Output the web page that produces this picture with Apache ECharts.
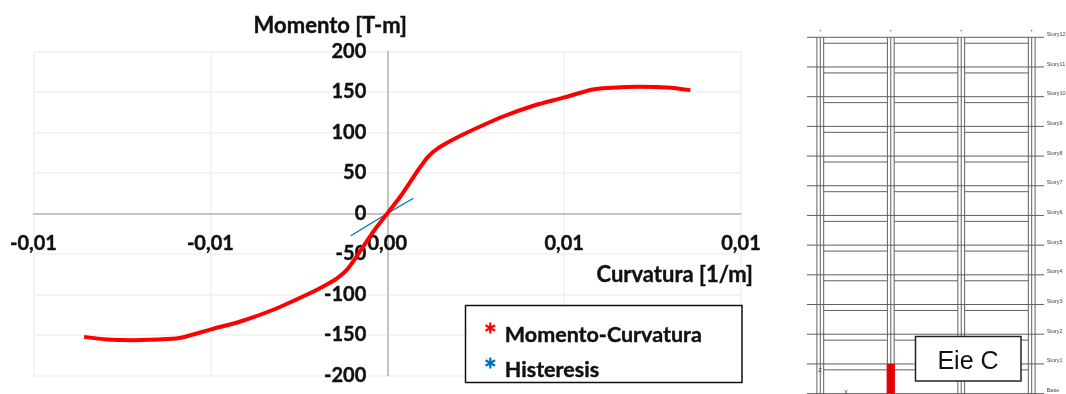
<!DOCTYPE html>
<html><head><meta charset="utf-8">
<style>html,body{margin:0;padding:0;background:#fff}#c{width:1066px;height:394px}</style>
<script src="https://cdn.jsdelivr.net/npm/echarts@6/dist/echarts.min.js"></script>
</head><body><div id="c"></div>
<script>
// Chart data
const xTickLabels = {'-0.01':'-0,01','-0.005':'-0,01','0':'0,00','0.005':'0,01','0.01':'0,01'};
const curvature = [-0.00857,-0.00792,-0.00715,-0.00622,-0.0058,-0.00498,-0.00413,-0.0032,-0.00226,-0.00185,-0.00145,-0.00115,-0.00088,-0.00037,0,0.00037,0.00088,0.00115,0.00145,0.00185,0.00226,0.0032,0.00413,0.00498,0.0058,0.00622,0.00715,0.00792,0.00857];
const moment = [-152.3,-155.6,-156.4,-155,-153,-143,-133,-118.5,-100,-91,-81,-70,-54,-21,0,21,54,70,81,91,100,118.5,133,143,153,155,156.4,155.6,152.3];
const histX = [-0.00103,0,0.00074];
const histY = [-27.5,0,18.9];
// Elevation data (bays and storeys)
const storeyLevels = [0,1,2,3,4,5,6,7,8,9,10,11,12];
const storeyNames = ['Base','Story1','Story2','Story3','Story4','Story5','Story6','Story7','Story8','Story9','Story10','Story11','Story12'];
const columnLines = [0,1,2,3];
const highlightedColumn = [1,0,1];

const zip = (a,b)=>a.map((v,i)=>[v,b[i]]);
function asterisk(){
  let d='';
  for(const deg of [0,60,120]){
    const r=deg*Math.PI/180,c=Math.cos(r),s=Math.sin(r);
    const pts=[[-2,-10],[2,-10],[2,10],[-2,10]].map(([x,y])=>[10+x*c-y*s,10+x*s+y*c]);
    d+='M'+pts.map(p=>p[0].toFixed(2)+','+p[1].toFixed(2)).join('L')+'Z';
  }
  // degenerate point below stretches the icon box so the star sits above the text centre
  return 'path://'+d+'M10,45.5L10.01,45.5Z';
}
const star = asterisk();
const bold = {fontFamily:'Lato',fontWeight:'bold',color:'#111',textBorderColor:'#111',textBorderWidth:0.4};
const colHalf = 0.048, overhang = 0.19, beamDrop = 0.2, lineCol = '#606060';

const segments = [];
for(const l of storeyLevels) segments.push([-overhang,l,3.175,l]);
for(const c of columnLines) for(const o of [-colHalf,0,colHalf]) segments.push([c+o,-0.02,c+o,12]);
for(const c of columnLines) segments.push([c,12.2,c,12.25]);
for(const l of storeyLevels.slice(1)) for(let b=0;b<3;b++) segments.push([b+colHalf,l-beamDrop,b+1-colHalf,l-beamDrop]);

const chart = echarts.init(document.getElementById('c'),null,{renderer:'canvas'});
chart.setOption({
  animation:false,
  backgroundColor:'#fff',
  grid:[
    {left:33.5,top:51.5,width:707.5,height:324,outerBoundsMode:'none'},
    {left:820.3,top:37.3,width:211.4,height:356.3,outerBoundsMode:'none'}
  ],
  xAxis:[
    {type:'value',gridIndex:0,min:-0.01,max:0.01,interval:0.005,offset:-162,
     axisLine:{onZero:false,lineStyle:{color:'#b5b5b5',width:1.5}},axisTick:{show:false},
     splitLine:{show:true,lineStyle:{color:'#f0f0f0',width:1.5}},
     axisLabel:{...bold,fontSize:20,margin:20,hideOverlap:false,showMinLabel:true,showMaxLabel:true,formatter:v=>xTickLabels[String(v)]},
     name:'Curvatura [1/m]',nameLocation:'end',nameGap:12,
     nameTextStyle:{...bold,fontSize:22,align:'right',verticalAlign:'top',padding:[50,0,0,0]}},
    {type:'value',gridIndex:1,min:0,max:3,show:false}
  ],
  yAxis:[
    {type:'value',gridIndex:0,min:-200,max:200,interval:50,offset:-353.75,
     axisLine:{onZero:false,lineStyle:{color:'#b5b5b5',width:1.5}},axisTick:{show:false},
     splitLine:{show:true,lineStyle:{color:'#f0f0f0',width:1.5}},
     axisLabel:{...bold,fontSize:20,margin:21,showMinLabel:true,showMaxLabel:true},
     name:'Momento [T-m]',nameLocation:'end',nameGap:15,
     nameTextStyle:{...bold,fontSize:22,align:'center',padding:[0,114,0,0]}},
    {type:'value',gridIndex:1,min:0,max:12,interval:1,position:'right',
     axisLine:{show:false},axisTick:{show:false},splitLine:{show:false},
     axisLabel:{show:true,margin:15,fontFamily:'Liberation Sans',fontSize:5.5,color:'#444',verticalAlign:'bottom',
       showMinLabel:true,showMaxLabel:true,formatter:v=>storeyNames[v]}}
  ],
  legend:{
    left:485,top:322.5,padding:0,orient:'vertical',itemWidth:11,itemHeight:25,itemGap:10,itemStyle:{borderWidth:0},lineStyle:{width:0},
    selectedMode:false,z:6,
    textStyle:{...bold,fontSize:21.5,padding:[0,0,0,4]},
    data:[{name:'Momento-Curvatura',icon:star},{name:'Histeresis',icon:star}]
  },
  graphic:[
    {type:'rect',z:5,shape:{x:465.5,y:305.5,width:276.5,height:77},style:{fill:'#fff',stroke:'#111',lineWidth:1.5}},
    {type:'rect',z:5,shape:{x:915.5,y:336.5,width:105.5,height:44.5},style:{fill:'#fff',stroke:'#222',lineWidth:1.5}},
    {type:'text',z:6,style:{x:968,y:362,text:'Eie C',font:'25px "Liberation Sans"',fill:'#111',textAlign:'center',textVerticalAlign:'middle'}},
    {type:'text',z:6,style:{x:820,y:370,text:'Z',font:'6px "Liberation Sans"',fill:'#444',textAlign:'center',textVerticalAlign:'middle'}},
    {type:'text',z:6,style:{x:846,y:392,text:'X',font:'6px "Liberation Sans"',fill:'#444',textAlign:'center',textVerticalAlign:'middle'}}
  ],
  series:[
    {name:'Momento-Curvatura',type:'line',xAxisIndex:0,yAxisIndex:0,data:zip(curvature,moment),smooth:0.25,showSymbol:false,
     lineStyle:{color:'#ff0000',width:4},itemStyle:{color:'#ff0000'},z:3},
    {name:'Histeresis',type:'line',xAxisIndex:0,yAxisIndex:0,data:zip(histX,histY),showSymbol:false,
     lineStyle:{color:'#0070c0',width:1.3},itemStyle:{color:'#0070c0'},z:2},
    {type:'custom',xAxisIndex:1,yAxisIndex:1,clip:false,silent:true,z:1,data:segments,
     renderItem:(p,api)=>{
       const a=api.coord([api.value(0),api.value(1)]),b=api.coord([api.value(2),api.value(3)]);
       return {type:'line',shape:{x1:a[0],y1:a[1],x2:b[0],y2:b[1]},style:{stroke:lineCol,lineWidth:1}};
     }},
    {type:'custom',xAxisIndex:1,yAxisIndex:1,clip:false,silent:true,z:2,data:[highlightedColumn],
     renderItem:(p,api)=>{
       const c=api.value(0),a=api.coord([c-colHalf-0.01,api.value(2)]),b=api.coord([c+colHalf+0.01,api.value(1)]);
       return {type:'group',children:[
         {type:'rect',shape:{x:a[0],y:a[1],width:b[0]-a[0],height:b[1]-a[1]},style:{fill:'#f00000'}},
         {type:'line',shape:{x1:(a[0]+b[0])/2,y1:a[1],x2:(a[0]+b[0])/2,y2:b[1]},style:{stroke:'#a00000',lineWidth:0.7}}
       ]};
     }}
  ]
});
</script></body></html>
